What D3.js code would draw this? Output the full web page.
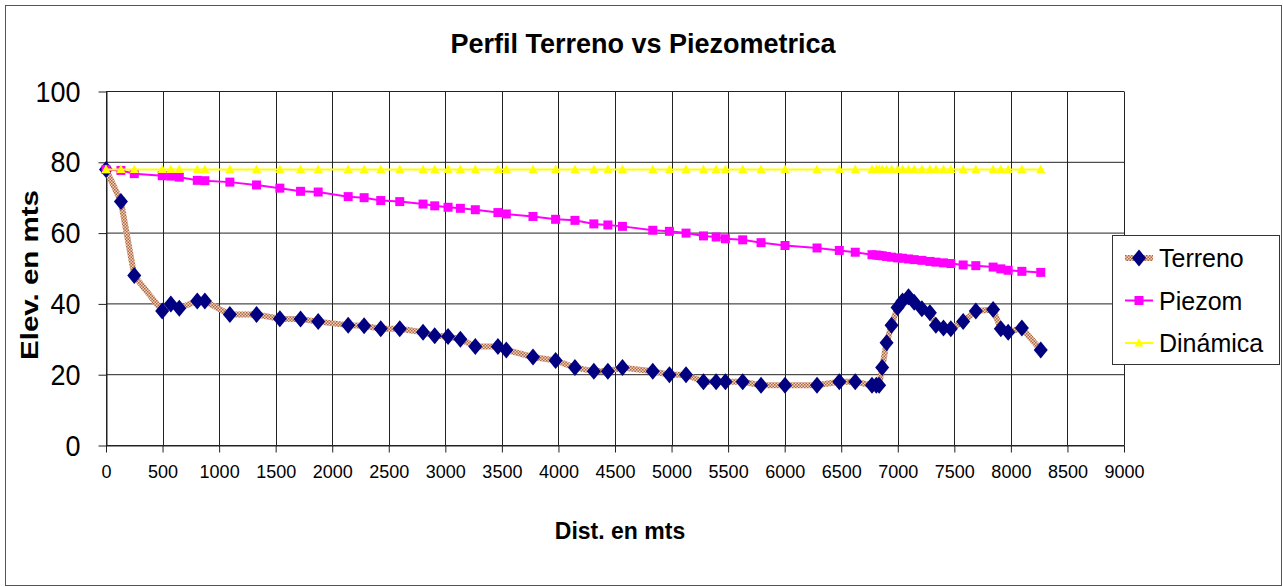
<!DOCTYPE html>
<html>
<head>
<meta charset="utf-8">
<script src="https://cdn.jsdelivr.net/npm/d3@7"></script>
<style>
  body { margin: 0; background: #fff; }
  text { font-family: "Liberation Sans", Arial, sans-serif; }
</style>
</head>
<body>
<svg id="chart" width="1283" height="587"></svg>
<script>
// distances (m) shared by the three series
let dist = [0, 132, 250, 497, 573, 648, 807, 874, 1095, 1331, 1537, 1720, 1876, 2141, 2282, 2429, 2597,
    2803, 2906, 3024, 3133, 3265, 3465, 3539, 3775, 3975, 4146, 4313, 4437, 4566, 4834, 4981, 5128, 5282,
    5394, 5476, 5629, 5791, 6003, 6286, 6483, 6624, 6772, 6810, 6835, 6862, 6901, 6945, 6998, 7042, 7095,
    7145, 7213, 7284, 7337, 7404, 7469, 7578, 7690, 7843, 7911, 7976, 8097, 8264];

let terreno = [78, 68.9, 48, 38, 40, 38.8, 40.8, 40.8, 37, 37, 35.8, 35.7, 35, 34, 33.8, 33, 33,
    32, 31, 30.8, 30, 28, 28, 27, 25, 24, 22, 21, 21, 22, 21, 20, 20, 18,
    18, 18, 18, 17, 17, 17, 18, 18, 17, 17, 17, 22, 29, 34, 39, 40.8, 42,
    40.5, 38.6, 37.5, 34, 33.2, 33, 35, 38, 38.4, 33, 32, 33.2, 27];

let piezom = [78, 77.7, 76.8, 76.2, 76.1, 75.8, 74.9, 74.8, 74.4, 73.6, 72.7, 71.8, 71.6, 70.3, 70, 69.2, 68.9,
    68.2, 67.7, 67.3, 67, 66.6, 65.8, 65.4, 64.7, 63.9, 63.6, 62.6, 62.3, 61.9, 60.8, 60.5, 60, 59.2,
    58.9, 58.4, 58.1, 57.3, 56.5, 55.8, 55.1, 54.6, 53.9, 53.8, 53.7, 53.6, 53.4, 53.2, 53, 52.9, 52.7,
    52.5, 52.3, 52, 51.8, 51.6, 51.4, 51, 50.8, 50.4, 49.9, 49.5, 49.2, 48.9];

let dinamica = [78, 78, 78, 78, 78, 78, 78, 78, 78, 78, 78, 78, 78, 78, 78, 78, 78,
    78, 78, 78, 78, 78, 78, 78, 78, 78, 78, 78, 78, 78, 78, 78, 78, 78,
    78, 78, 78, 78, 78, 78, 78, 78, 78, 78, 78, 78, 78, 78, 78, 78, 78,
    78, 78, 78, 78, 78, 78, 78, 78, 78, 78, 78, 78, 78];

let xTickValues = [0, 500, 1000, 1500, 2000, 2500, 3000, 3500, 4000, 4500, 5000, 5500, 6000, 6500, 7000, 7500, 8000, 8500, 9000];
let yTickValues = [0, 20, 40, 60, 80, 100];
let seriesNames = ["Terreno", "Piezom", "Dinámica"];

let svg = d3.select('#chart');
let plot = {l: 106, r: 1124, t: 91.5, b: 445.5};

let x = d3.scaleLinear().domain([0, 9000]).range([plot.l, plot.r]);
let y = d3.scaleLinear().domain([0, 100]).range([plot.b, plot.t]);

// checkered stroke used by the Terreno line
let defs = svg.append("defs");
let pat = defs.append("pattern").attr("id", "chk")
    .attr("width", 3).attr("height", 3).attr("patternUnits", "userSpaceOnUse");
pat.append("rect").attr("width", 3).attr("height", 3).attr("fill", "#efd3c0");
pat.append("rect").attr("width", 1.5).attr("height", 1.5).attr("fill", "#b0663f");
pat.append("rect").attr("x", 1.5).attr("y", 1.5).attr("width", 1.5).attr("height", 1.5).attr("fill", "#b0663f");

// outer border
svg.append("rect")
    .attr("x", 5.5).attr("y", 5.5).attr("width", 1276).attr("height", 580)
    .attr("fill", "white").attr("stroke", "#555").attr("stroke-width", 1);

// title
svg.append("text")
    .attr("x", 643).attr("y", 53)
    .attr("text-anchor", "middle")
    .attr("font-size", "27px").attr("font-weight", "bold")
    .text("Perfil Terreno vs Piezometrica");

// grid
let grid = svg.append("g");
grid.selectAll(".vg").data(xTickValues).enter().append("line")
    .attr("x1", d => Math.round(x(d)) + 0.5).attr("x2", d => Math.round(x(d)) + 0.5)
    .attr("y1", plot.t).attr("y2", plot.b)
    .attr("stroke", "#222").attr("stroke-width", 1);
grid.selectAll(".hg").data(yTickValues).enter().append("line")
    .attr("x1", plot.l).attr("x2", plot.r)
    .attr("y1", d => y(d)).attr("y2", d => y(d))
    .attr("stroke", "#222").attr("stroke-width", 1);

// axes
let xAxis = svg.append("g")
    .attr("transform", "translate(0," + plot.b + ")")
    .call(d3.axisBottom(x).tickValues(xTickValues).tickSize(7).tickPadding(13).tickSizeOuter(0).tickFormat(d3.format("d")));
xAxis.selectAll("text").attr("font-size", "18px").attr("fill", "#000");
xAxis.selectAll("line, path").attr("stroke", "#222");

let yAxis = svg.append("g")
    .attr("transform", "translate(" + (Math.round(plot.l) + 0.5) + ",0)")
    .call(d3.axisLeft(y).tickValues(yTickValues).tickSize(8).tickPadding(18).tickSizeOuter(0));
yAxis.selectAll("text").attr("font-size", "30px").attr("fill", "#000")
    .attr("textLength", d => String(d).length * 15).attr("lengthAdjust", "spacingAndGlyphs");
yAxis.selectAll("line, path").attr("stroke", "#222");

// axis titles
svg.append("text")
    .attr("transform", "translate(38,275) rotate(-90)")
    .attr("text-anchor", "middle")
    .attr("font-size", "24px").attr("font-weight", "bold")
    .attr("textLength", 170).attr("lengthAdjust", "spacingAndGlyphs")
    .text("Elev. en mts");

svg.append("text")
    .attr("x", 620).attr("y", 539)
    .attr("text-anchor", "middle")
    .attr("font-size", "23px").attr("font-weight", "bold")
    .text("Dist. en mts");

// markers
let diamond = "M0,-8.5L7,0L0,8.5L-7,0Z";
let square = "M-4.5,-4.5H4.5V4.5H-4.5Z";
let triangle = "M0,-5L4.5,3.5H-4.5Z";

let styles = [
    {vals: terreno, stroke: "url(#chk)", width: 6, marker: diamond, fill: "#000080"},
    {vals: piezom, stroke: "#ff00ff", width: 2, marker: square, fill: "#ff00ff"},
    {vals: dinamica, stroke: "#ffff00", width: 2, marker: triangle, fill: "#ffff00"}
];

let lineGen = d3.line().x(d => x(d[0])).y(d => y(d[1]));

styles.forEach(function(s) {
    let pts = dist.map((d, i) => [d, s.vals[i]]);
    let g = svg.append("g");
    g.append("path")
        .attr("d", lineGen(pts))
        .attr("fill", "none")
        .attr("stroke", s.stroke)
        .attr("stroke-width", s.width)
        .attr("stroke-linejoin", "round");
    g.selectAll("path.m").data(pts).enter().append("path")
        .attr("class", "m")
        .attr("d", s.marker)
        .attr("transform", d => "translate(" + x(d[0]) + "," + y(d[1]) + ")")
        .attr("fill", s.fill);
});

// legend
let legend = svg.append("g");
legend.append("rect")
    .attr("x", 1112.5).attr("y", 235.5).attr("width", 167).attr("height", 129)
    .attr("fill", "white").attr("stroke", "#333");

let legRows = legend.selectAll(".row").data(styles).enter().append("g")
    .attr("transform", (d, i) => "translate(0," + (258 + i * 42.5) + ")");
legRows.append("line")
    .attr("x1", 1125).attr("x2", 1153)
    .attr("stroke", d => d.stroke)
    .attr("stroke-width", d => d.width);
legRows.append("path")
    .attr("d", d => d.marker)
    .attr("transform", "translate(1139,0)")
    .attr("fill", d => d.fill);
legRows.append("text")
    .attr("x", 1159).attr("y", 9)
    .attr("font-size", "25px")
    .text((d, i) => seriesNames[i]);
</script>
</body>
</html>
